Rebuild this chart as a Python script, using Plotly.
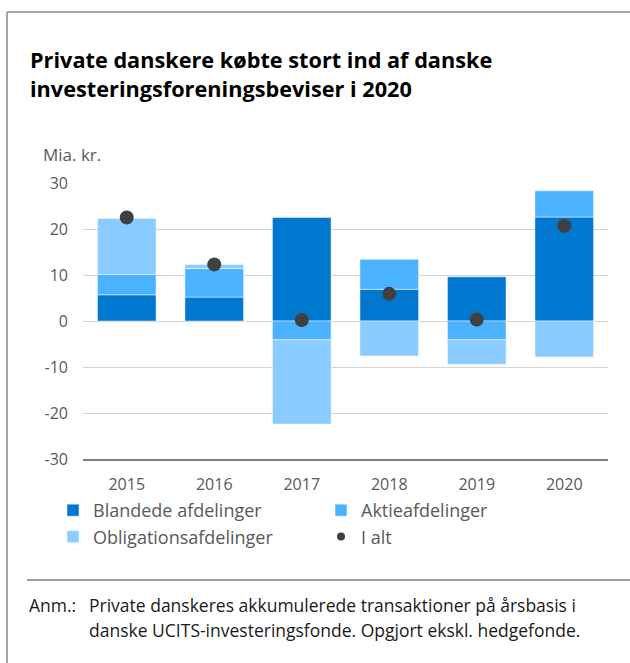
import plotly.graph_objects as go

years = ["2015", "2016", "2017", "2018", "2019", "2020"]
blandede = [5.7, 5.2, 22.5, 6.9, 9.6, 22.6]
aktie = [4.4, 6.2, -4.1, 6.5, -4.1, 5.7]
obligation = [12.2, 0.9, -18.3, -7.6, -5.3, -7.8]
i_alt = [22.5, 12.3, 0.2, 5.9, 0.3, 20.7]

y_ticks = [30, 20, 10, 0, -10, -20, -30]
y_tick_labels = ["30", "20", "10", "0", "-10", "-20", "-30"]

W, H = 630, 663
L, R, T, B = 83, 608, 183, 459
FONT = "Open Sans"
GRAY = "#595959"
DARK = "#1a1a1a"


def px(x):
    return (x - L) / (R - L)


def py(y):
    return (B - y) / (B - T)


fig = go.Figure()
line = dict(color="rgba(255,255,255,0.6)", width=0.8)
fig.add_trace(go.Bar(x=years, y=blandede, name="Blandede afdelinger",
                     marker=dict(color="#0078CF", line=line)))
fig.add_trace(go.Bar(x=years, y=aktie, name="Aktieafdelinger",
                     marker=dict(color="#4BB2FF", line=line)))
fig.add_trace(go.Bar(x=years, y=obligation, name="Obligationsafdelinger",
                     marker=dict(color="#8ACCFF", line=line)))
fig.add_trace(go.Scatter(x=years, y=i_alt, mode="markers", name="I alt",
                         showlegend=False, legendgroup="ialt",
                         marker=dict(color="#404040", size=14)))
fig.add_trace(go.Scatter(x=[None], y=[None], mode="markers", name="I alt",
                         legendgroup="ialt",
                         marker=dict(color="#404040", size=8)))

shapes = [
    # outer frame
    dict(type="line", xref="paper", yref="paper", x0=px(7), x1=px(632),
         y0=py(12), y1=py(12), line=dict(color="#A6A6A6", width=2)),
    dict(type="line", xref="paper", yref="paper", x0=px(7), x1=px(7),
         y0=py(12), y1=py(665), line=dict(color="#A6A6A6", width=2)),
    # separator above note
    dict(type="line", xref="paper", yref="paper", x0=px(27), x1=px(632),
         y0=py(580), y1=py(580), line=dict(color="#A0A0A0", width=2)),
]

annotations = [
    dict(text="<b>Private danskere købte stort ind af danske</b>",
         xref="paper", yref="paper", x=px(28), y=py(59), xanchor="left", yanchor="middle",
         align="left", showarrow=False,
         font=dict(family=FONT, size=21.7, color="#000000")),
    dict(text="<b>investeringsforeningsbeviser i 2020</b>",
         xref="paper", yref="paper", x=px(28), y=py(88), xanchor="left", yanchor="middle",
         align="left", showarrow=False,
         font=dict(family=FONT, size=21.7, color="#000000")),
    dict(text="Mia. kr.", xref="paper", yref="paper", x=px(41), y=py(154),
         xanchor="left", yanchor="middle", showarrow=False,
         font=dict(family=FONT, size=17, color=GRAY)),
    dict(text="Anm.:", xref="paper", yref="paper", x=px(27), y=py(605),
         xanchor="left", yanchor="middle", showarrow=False,
         font=dict(family=FONT, size=17.5, color=DARK)),
    dict(text="Private danskeres akkumulerede transaktioner på årsbasis i",
         xref="paper", yref="paper", x=px(87), y=py(605), xanchor="left", yanchor="middle",
         align="left", showarrow=False,
         font=dict(family=FONT, size=17.5, color=DARK)),
    dict(text="danske UCITS-investeringsfonde. Opgjort ekskl. hedgefonde.",
         xref="paper", yref="paper", x=px(87), y=py(630), xanchor="left", yanchor="middle",
         align="left", showarrow=False,
         font=dict(family=FONT, size=17.5, color=DARK)),
]

fig.update_layout(
    width=W, height=H,
    margin=dict(l=L, r=W - R, t=T, b=H - B, pad=0),
    paper_bgcolor="white", plot_bgcolor="white",
    barmode="relative", bargap=0.33,
    font=dict(family=FONT, size=16, color=GRAY),
    showlegend=True,
    legend=dict(orientation="h", x=px(53), y=py(492), xanchor="left", yanchor="top",
                entrywidth=223, entrywidthmode="pixels", traceorder="normal",
                itemwidth=30, font=dict(family=FONT, size=18, color=GRAY),
                bgcolor="rgba(0,0,0,0)", tracegroupgap=0),
    shapes=shapes, annotations=annotations,
    xaxis=dict(showgrid=False, showline=True, linecolor="#7F7F7F", linewidth=1.5,
               ticks="", tickfont=dict(family=FONT, size=16, color=GRAY), ticklabelstandoff=10),
    yaxis=dict(range=[-30, 30], tickvals=y_ticks, ticktext=y_tick_labels,
               showgrid=True, gridcolor="#D3D3D3",
               gridwidth=1, zeroline=False, showline=False, ticks="",
               tickfont=dict(family=FONT, size=16, color=GRAY), ticklabelstandoff=14),
)

fig.write_html("out.html", config={"displayModeBar": False},
               post_script="document.body.style.margin='0';document.body.style.overflow='hidden';")
